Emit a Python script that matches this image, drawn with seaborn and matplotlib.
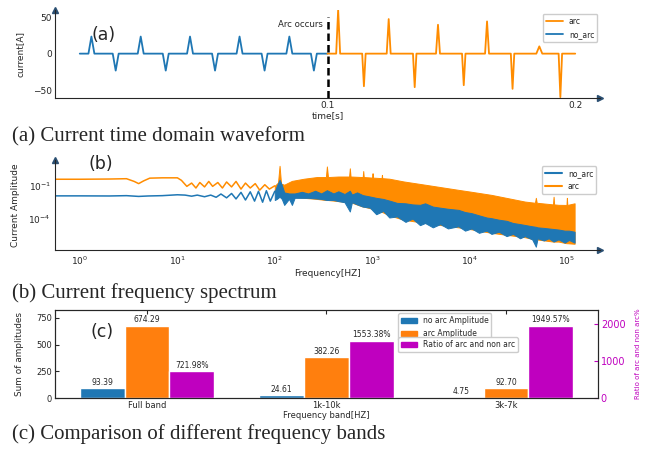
import numpy as np
import matplotlib
matplotlib.use("Agg")
import matplotlib.pyplot as plt
import seaborn as sns
from matplotlib.lines import Line2D
from matplotlib.patches import Patch
from matplotlib.ticker import NullLocator

# ---------------- datos ----------------
# (a) forma de onda: instante de cada pico [s], valor del pico [A] y semi-ancho [s]
t_no_arc = [0.0047, 0.0145, 0.0246, 0.0347, 0.0445, 0.0546, 0.0645, 0.0746, 0.0846, 0.0945]
pico_no_arc = [23.5, -23.3, 23.5, -23.3, 23.5, -23.3, 23.5, -23.3, 23.5, -23.3]
ancho_no_arc = [0.0012] * 10
t_arc = [0.1043, 0.1147, 0.1247, 0.1352, 0.1446, 0.1550, 0.1644, 0.1747, 0.1855, 0.1940]
pico_arc = [60.3, -44.8, 47.5, -46.1, 39.7, -43.4, 44.3, -48.4, 10.0, -59.8]
ancho_arc = [0.0008, 0.0007, 0.0008, 0.0007, 0.0008, 0.0007, 0.0008, 0.0007, 0.0012, 0.0007]

# (b) espectro, exponentes log10 de la amplitud
# tramo de baja frecuencia (linea)
f_lin_no_arc = [0.55, 1, 2, 3, 4, 5, 7, 10, 12, 14, 16, 19, 22, 25, 28, 32, 36, 40, 45, 50,
                56, 62, 68, 75, 82, 90, 100]
e_lin_no_arc = [-1.92, -1.92, -1.93, -1.9, -1.97, -1.93, -1.9, -1.82, -1.85, -1.95, -1.85, -2.0,
                -1.85, -2.05, -1.75, -2.1, -1.7, -2.2, -1.6, -2.3, -1.55, -2.4, -1.5, -2.5,
                -1.45, -2.4, -1.5]
f_lin_arc = [0.55, 1, 2, 3, 3.6, 4.0, 4.5, 5.2, 7, 10, 11, 12.5, 14, 15.5, 17, 19, 21, 23, 26,
             29, 32, 36, 40, 45, 50, 56, 63, 70, 79, 88, 100]
e_lin_arc = [-0.4, -0.4, -0.38, -0.35, -0.6, -0.8, -0.55, -0.3, -0.27, -0.27, -0.5, -1.05,
             -0.75, -1.2, -0.7, -1.1, -0.6, -1.05, -0.7, -1.2, -0.65, -1.1, -0.6, -1.3, -0.75,
             -1.2, -0.8, -1.4, -0.9, -1.3, -1.0]
# tramo ruidoso (envolvente superior / inferior)
f_banda_no_arc = [100, 105, 112, 118, 125, 140, 150, 160, 190, 220, 260, 300, 343, 400, 450,
                  520, 590, 620, 700, 800, 950, 1100, 1300, 1500, 1800, 2200, 2600, 3100, 3500,
                  4200, 5000, 6000, 7700, 9000, 10500, 12500, 15000, 16800, 20000, 24000, 28000,
                  33000, 37000, 44000, 48000, 50000, 58000, 65000, 73000, 82000, 95000, 105000,
                  120000]
sup_no_arc = [-1.5, -1.0, -0.45, -0.9, -1.6, -1.7, -1.7, -1.7, -1.55, -1.7, -1.45, -1.7, -1.4,
              -1.7, -1.5, -1.75, -1.45, -1.8, -1.6, -1.85, -1.98, -2.1, -2.2, -2.35, -2.56,
              -2.6, -2.7, -2.74, -2.6, -2.9, -3.0, -3.1, -3.2, -3.4, -3.5, -3.7, -3.9, -3.96,
              -4.1, -4.2, -4.4, -4.5, -4.58, -4.7, -4.75, -4.8, -4.85, -4.9, -4.95, -5.0, -5.1,
              -5.1, -5.2]
inf_no_arc = [-2.3, -2.2, -2.0, -2.2, -2.75, -2.2, -2.75, -2.1, -2.1, -2.1, -2.15, -2.2, -2.3,
              -2.3, -2.4, -2.5, -3.35, -2.5, -2.7, -2.9, -3.0, -3.6, -3.3, -3.9, -3.8, -4.3,
              -4.0, -4.6, -4.4, -4.8, -4.5, -4.9, -4.7, -5.1, -4.9, -5.3, -5.1, -5.4, -5.2,
              -5.6, -5.4, -5.8, -5.6, -5.9, -6.57, -5.8, -6.0, -5.8, -6.1, -5.9, -6.2, -5.95,
              -6.2]
f_banda_arc = [100, 108, 112, 116, 125, 150, 200, 270, 335, 343, 352, 450, 580, 590, 600, 800,
               810, 820, 1000, 1010, 1020, 1250, 1260, 1270, 1500, 2100, 3500, 7700, 10000,
               16800, 37000, 47000, 48000, 49000, 72000, 73000, 74000, 82000, 99000, 100000,
               101000, 120000]
sup_arc = [-1.0, -0.7, 0.83, -0.8, -0.9, -0.55, -0.35, -0.2, -0.2, 0.77, -0.2, -0.15, -0.15,
           0.6, -0.15, -0.2, 0.35, -0.2, -0.25, 0.15, -0.25, -0.3, 0.0, -0.3, -0.35, -0.6,
           -0.9, -1.37, -1.52, -1.83, -2.44, -2.55, -2.1, -2.55, -2.7, -2.0, -2.7, -2.74, -2.75,
           -2.1, -2.75, -2.6]
inf_arc = [-1.5, -1.6, -1.6, -1.7, -2.0, -2.0, -2.1, -2.2, -2.3, -2.3, -2.3, -2.4, -2.5, -2.5,
           -2.5, -2.9, -2.9, -2.9, -3.1, -3.1, -3.1, -3.4, -3.4, -3.4, -3.7, -4.1, -4.4, -4.8,
           -4.95, -5.3, -5.7, -5.9, -5.9, -5.9, -6.1, -6.1, -6.1, -6.1, -6.25, -6.25, -6.25,
           -6.3]

# (c) bandas de frecuencia
bandas = ['Full band', '1k-10k', '3k-7k']
amp_no_arc = [93.39, 24.61, 4.75]
amp_arc = [674.29, 382.26, 92.70]
ratio = [721.98, 1553.38, 1949.57]

# ---------------- estilo ----------------
sns.set_style("white")
plt.rcParams['font.family'] = ['DejaVu Sans']
AZUL = '#1f77b4'
NARANJA = '#ff8c00'
NARANJA_BAR = '#ff7f0e'
MAGENTA = '#bf00bf'
FLECHA = '#2b4f72'

W, H = 648, 451
fig = plt.figure(figsize=(6.48, 4.51), dpi=100)


def caja(x0, y0, x1, y1):
    # rectangulo en pixeles (origen arriba) -> fraccion de figura
    return [x0 / W, 1 - y1 / H, (x1 - x0) / W, (y1 - y0) / H]


def onda(t0, t1, tiempos, picos, anchos):
    t, y = [t0], [0.0]
    for tc, a, w in zip(tiempos, picos, anchos):
        t += [tc - w, tc, tc + w]
        y += [0.0, a, 0.0]
    t.append(t1)
    y.append(0.0)
    return t, y


def flechas(ax):
    for s in ['top', 'right']:
        ax.spines[s].set_visible(False)
    ax.plot(1, 0, '>', color=FLECHA, ms=5, transform=ax.transAxes, clip_on=False)
    ax.plot(0, 1, '^', color=FLECHA, ms=5, transform=ax.transAxes, clip_on=False)


# ---------- (a) forma de onda ----------
ax_a = fig.add_axes(caja(55, 10, 600, 98))
t1, y1 = onda(0.0, 0.1, t_no_arc, pico_no_arc, ancho_no_arc)
t2, y2 = onda(0.1, 0.2, t_arc, pico_arc, ancho_arc)
sns.lineplot(x=t1, y=y1, ax=ax_a, color=AZUL, lw=1.3, estimator=None, sort=False)
sns.lineplot(x=t2, y=y2, ax=ax_a, color=NARANJA, lw=1.3, estimator=None, sort=False)
ax_a.vlines(0.1, -61, 51, colors='k', linestyles=(0, (3, 1.6)), lw=1.8, zorder=3)
ax_a.text(0.0982, 40.5, 'Arc occurs', ha='right', va='center', fontsize=6.2)
ax_a.set_xlim(-0.01, 0.21)
ax_a.set_ylim(-61, 60)
ax_a.set_xticks([0.1, 0.2])
ax_a.set_yticks([-50, 0, 50])
ax_a.tick_params(labelsize=6.5, direction='in', length=3, pad=2)
ax_a.set_xlabel('time[s]', fontsize=6.5, labelpad=1)
ax_a.set_ylabel('current[A]', fontsize=6.5)
ax_a.yaxis.set_label_coords(-0.055, 0.5)
flechas(ax_a)
ax_a.legend(handles=[Line2D([], [], color=NARANJA, lw=1.3), Line2D([], [], color=AZUL, lw=1.3)],
            labels=['arc', 'no_arc'], loc='upper right', bbox_to_anchor=(0.995, 0.955),
            borderaxespad=0, fontsize=5.5, handlelength=2.2, framealpha=1)

# ---------- (b) espectro ----------
ax_b = fig.add_axes(caja(55, 160, 600, 250))
ax_b.set_xscale('log')
ax_b.set_yscale('log')
sns.lineplot(x=f_lin_arc, y=10.0 ** np.array(e_lin_arc), ax=ax_b, color=NARANJA, lw=1.1,
             estimator=None, sort=False)
ax_b.fill_between(f_banda_arc, 10.0 ** np.array(inf_arc), 10.0 ** np.array(sup_arc),
                  color=NARANJA, lw=0.7)
sns.lineplot(x=f_lin_no_arc, y=10.0 ** np.array(e_lin_no_arc), ax=ax_b, color=AZUL, lw=1.1,
             estimator=None, sort=False)
ax_b.fill_between(f_banda_no_arc, 10.0 ** np.array(inf_no_arc), 10.0 ** np.array(sup_no_arc),
                  color=AZUL, lw=0.7)
ax_b.set_xlim(10 ** -0.257, 10 ** 5.34)
ax_b.set_ylim(10 ** -6.87, 10 ** 1.36)
ax_b.set_xticks([1e0, 1e1, 1e2, 1e3, 1e4, 1e5])
ax_b.set_yticks([1e-1, 1e-4])
ax_b.yaxis.set_minor_locator(NullLocator())
ax_b.tick_params(labelsize=6.5, direction='in', length=3, pad=3)
ax_b.tick_params(which='minor', direction='in', length=2)
ax_b.set_xlabel('Frequency[HZ]', fontsize=6.5, labelpad=2)
ax_b.set_ylabel('Current Amplitude', fontsize=6.5)
ax_b.yaxis.set_label_coords(-0.064, 0.5)
flechas(ax_b)
ax_b.legend(handles=[Line2D([], [], color=AZUL, lw=1.5), Line2D([], [], color=NARANJA, lw=1.5)],
            labels=['no_arc', 'arc'], loc='upper right', bbox_to_anchor=(0.993, 0.933),
            borderaxespad=0, fontsize=5.5, handlelength=2.2, framealpha=1)

# ---------- (c) barras ----------
ax_c = fig.add_axes(caja(55, 310, 598, 398))
ax_r = ax_c.twinx()
x = np.arange(len(bandas))
b1 = ax_c.bar(x - 0.25, amp_no_arc, 0.25, color=AZUL)
b2 = ax_c.bar(x, amp_arc, 0.25, color=NARANJA_BAR)
b3 = ax_r.bar(x + 0.25, ratio, 0.25, color=MAGENTA)
ax_c.bar_label(b1, fmt='%.2f', padding=1, fontsize=5.5)
ax_c.bar_label(b2, fmt='%.2f', padding=1, fontsize=5.5)
ax_r.bar_label(b3, labels=[f'{v:.2f}%' for v in ratio], padding=1, fontsize=5.5)
ax_c.set_ylim(0, max(amp_arc) * 1.22)
ax_r.set_ylim(0, max(ratio) * 1.22)
ax_c.set_xlim(-0.5125, 2.5125)
ax_c.set_xticks(x)
ax_c.set_xticklabels(bandas)
ax_c.set_yticks([0, 250, 500, 750])
ax_r.set_yticks([0, 1000, 2000])
ax_c.tick_params(labelsize=6, direction='in', length=3, pad=2, top=True)
ax_r.tick_params(labelsize=7, direction='in', length=3, pad=2, colors=MAGENTA)
ax_c.set_xlabel('Frequency band[HZ]', fontsize=6, labelpad=1)
ax_c.set_ylabel('Sum of amplitudes', fontsize=6.4)
ax_c.yaxis.set_label_coords(-0.057, 0.5)
ax_r.set_ylabel('Ratio of arc and non arc%', fontsize=5, color=MAGENTA)
ax_r.yaxis.set_label_coords(1.068, 0.5)
for s in ax_c.spines.values():
    s.set_color('#333333')
ax_c.legend(handles=[Patch(color=AZUL), Patch(color=NARANJA_BAR)],
            labels=['no arc Amplitude', 'arc Amplitude'], loc='upper left',
            bbox_to_anchor=(0.632, 0.966), borderaxespad=0, fontsize=5.5, framealpha=1)
ax_r.legend(handles=[Patch(color=MAGENTA)], labels=['Ratio of arc and non arc'], loc='upper left',
            bbox_to_anchor=(0.632, 0.693), borderaxespad=0, fontsize=5.5, framealpha=1)

# ---------- etiquetas de panel y pies ----------
fig.text(104 / W, 1 - 35 / H, '(a)', fontsize=12.5, ha='center', va='center')
fig.text(101 / W, 1 - 164 / H, '(b)', fontsize=12.5, ha='center', va='center')
fig.text(102 / W, 1 - 332 / H, '(c)', fontsize=12.5, ha='center', va='center')
serif = ['Liberation Serif', 'DejaVu Serif']
fig.text(12 / W, 1 - 137 / H, '(a) Current time domain waveform', family=serif, fontsize=15,
         va='center')
fig.text(12 / W, 1 - 293 / H, '(b) Current frequency spectrum', family=serif, fontsize=15,
         va='center')
fig.text(12 / W, 1 - 434 / H, '(c) Comparison of different frequency bands', family=serif,
         fontsize=15, va='center')

fig.savefig('out.png', dpi=100)
